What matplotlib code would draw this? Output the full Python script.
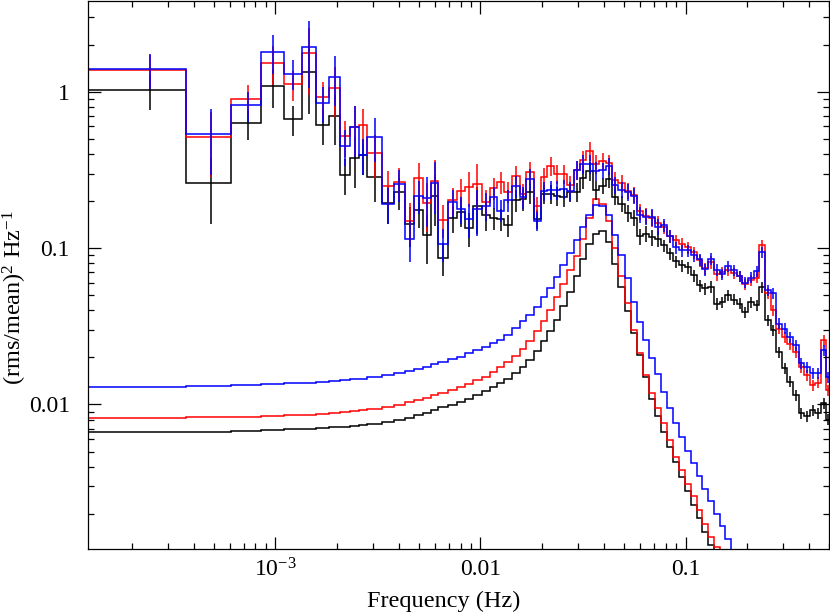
import numpy as np
import matplotlib
matplotlib.use("Agg")
import matplotlib.pyplot as plt
from matplotlib.ticker import LogLocator, FixedLocator, FixedFormatter, NullFormatter

# ---------------- data ----------------
# number of Fourier frequencies (df = 1/4096 Hz) contained in each rebinned frequency bin
bin_width = ([1] * 11 + [2] * 7 + [3] * 4 + [4] * 4 + [5] * 3 + [6] * 3 + [7] * 2 + [8] * 3 + [10] * 2 +
             [11, 12, 12, 13, 14, 15, 16, 17, 18, 19, 20, 22, 23, 24, 26, 28, 29, 31, 33, 35, 37,
              40, 42, 45, 48, 51, 54, 58, 61, 65, 69, 74, 78, 83, 88, 94, 100, 106, 113, 120, 60])
df = 1.0 / 4096.0

# observed power spectra (rms/mean)^2/Hz
pds_black = [1.02, 0.260, 0.631, 1.092, 0.669, 1.342, 0.613, 0.703, 0.295, 0.379,
             0.396, 0.287, 0.194, 0.228, 0.143, 0.176, 0.121, 0.217, 0.087, 0.156,
             0.170, 0.135, 0.185, 0.162, 0.156, 0.154, 0.140, 0.202, 0.207, 0.228,
             0.154, 0.222, 0.222, 0.217, 0.212, 0.228, 0.228, 0.279, 0.313, 0.237,
             0.251, 0.275, 0.213, 0.193, 0.168, 0.157, 0.119, 0.124, 0.117, 0.115,
             0.104, 0.0925, 0.0823, 0.0776, 0.0753, 0.0669, 0.0578, 0.0553, 0.0564, 0.0442,
             0.0452, 0.0499, 0.0469, 0.0442, 0.0390, 0.0452, 0.0431, 0.0564, 0.0346, 0.0298,
             0.0217, 0.0170, 0.0140, 0.0115, 0.0088, 0.0084, 0.0092, 0.0088, 0.0102, 0.0080]
pds_red = [1.38, 0.516, 0.906, 1.525, 1.120, 1.766, 0.920, 1.065, 0.520, 0.595,
           0.616, 0.406, 0.248, 0.264, 0.150, 0.281, 0.194, 0.270, 0.152, 0.202,
           0.231, 0.245, 0.258, 0.196, 0.243, 0.264, 0.230, 0.288, 0.222, 0.306,
           0.187, 0.284, 0.337, 0.298, 0.298, 0.255, 0.316, 0.366, 0.418, 0.347,
           0.360, 0.350, 0.273, 0.261, 0.233, 0.220, 0.172, 0.161, 0.156, 0.144,
           0.136, 0.119, 0.112, 0.107, 0.101, 0.0939, 0.0834, 0.0742, 0.0814, 0.0679,
           0.0703, 0.0721, 0.0693, 0.0660, 0.0587, 0.0622, 0.0647, 0.104, 0.0516, 0.0400,
           0.0306, 0.0270, 0.0243, 0.0217, 0.0174, 0.0154, 0.0133, 0.0138, 0.0258, 0.0124]
pds_blue = [1.40, 0.537, 0.822, 1.808, 1.309, 1.946, 0.851, 1.247, 0.452, 0.598,
            0.396, 0.516, 0.192, 0.258, 0.115, 0.216, 0.210, 0.260, 0.107, 0.197,
            0.178, 0.154, 0.178, 0.187, 0.212, 0.174, 0.202, 0.248, 0.212, 0.277,
            0.150, 0.233, 0.236, 0.236, 0.239, 0.233, 0.316, 0.346, 0.347, 0.313,
            0.315, 0.335, 0.254, 0.237, 0.228, 0.217, 0.164, 0.159, 0.158, 0.137,
            0.140, 0.119, 0.101, 0.0967, 0.0967, 0.0898, 0.0847, 0.0731, 0.0856, 0.0728,
            0.0679, 0.0764, 0.0721, 0.0660, 0.0601, 0.0647, 0.0710, 0.0943, 0.0537, 0.0516,
            0.0329, 0.0306, 0.0270, 0.0239, 0.0183, 0.0174, 0.0158, 0.0158, 0.0222, 0.0150]

# fractional 1-sigma uncertainty of each bin
rel_err = [0.25, 0.45, 0.22, 0.28, 0.22, 0.46, 0.26, 0.35, 0.26, 0.36,
           0.26, 0.31, 0.26, 0.23, 0.29, 0.24, 0.35, 0.36, 0.24, 0.20,
           0.20, 0.25, 0.33, 0.20, 0.16, 0.16, 0.16, 0.16, 0.16, 0.16,
           0.14, 0.14, 0.14, 0.14, 0.14, 0.14, 0.14, 0.14, 0.14, 0.14,
           0.12, 0.12, 0.12, 0.12, 0.12, 0.12, 0.12, 0.12, 0.12, 0.12,
           0.09, 0.09, 0.09, 0.09, 0.09, 0.09, 0.09, 0.09, 0.09, 0.09,
           0.08, 0.08, 0.08, 0.08, 0.08, 0.08, 0.08, 0.08, 0.08, 0.08,
           0.08, 0.08, 0.08, 0.08, 0.08, 0.08, 0.08, 0.08, 0.08, 0.08]

# model (Lorentzian-like component) in each bin
model_black = [0.00664, 0.00667, 0.00676, 0.00686, 0.00692, 0.00697, 0.00704, 0.00714, 0.00723, 0.00730,
               0.00739, 0.00755, 0.00775, 0.00795, 0.00823, 0.00856, 0.00885, 0.00921, 0.00958, 0.00991,
               0.0104, 0.0109, 0.0115, 0.0122, 0.0129, 0.0137, 0.0146, 0.0159, 0.0173, 0.0192,
               0.0219, 0.0254, 0.0294, 0.0346, 0.0425, 0.0522, 0.0660, 0.0847, 0.106, 0.124,
               0.128, 0.109, 0.0787, 0.0561, 0.0395, 0.0286, 0.0207, 0.0150, 0.0109, 0.00843,
               0.00667, 0.00535, 0.00429, 0.00344, 0.00280, 0.00228, 0.00188, 0.00153, 0.00127, 0.00106,
               0.00090, 0.00077, 0.00066, 0.00056, 0.00048, 0.00041, 0.00035, 0.00030, 0.00026, 0.00022,
               0.00019, 0.00016, 0.00014, 0.00012, 0.00010, 0.00009, 0.00008, 0.00007, 0.00006, 0.00005]
model_red = [0.00823, 0.00827, 0.00835, 0.00843, 0.00852, 0.00860, 0.00875, 0.00888, 0.00898, 0.00910,
             0.00921, 0.00941, 0.00967, 0.00991, 0.0103, 0.0107, 0.0110, 0.0115, 0.0119, 0.0124,
             0.0129, 0.0136, 0.0143, 0.0150, 0.0161, 0.0173, 0.0187, 0.0204, 0.0226, 0.0254,
             0.0294, 0.0341, 0.0400, 0.0485, 0.0587, 0.0721, 0.0885, 0.115, 0.155, 0.205,
             0.193, 0.150, 0.0996, 0.0660, 0.0444, 0.0298, 0.0213, 0.0154, 0.0118, 0.00944,
             0.00758, 0.00593, 0.00464, 0.00381, 0.00310, 0.00258, 0.00212, 0.00172, 0.00142, 0.00123,
             0.00105, 0.00090, 0.00077, 0.00066, 0.00057, 0.00049, 0.00042, 0.00036, 0.00031, 0.00027,
             0.00023, 0.00020, 0.00017, 0.00015, 0.00013, 0.00011, 0.00010, 0.00009, 0.00008, 0.00007]
model_blue = [0.01297, 0.01311, 0.01324, 0.01350, 0.01370, 0.01380, 0.01400, 0.01415, 0.01432, 0.01446,
              0.01459, 0.01489, 0.01533, 0.01579, 0.01626, 0.01675, 0.01740, 0.01810, 0.01873, 0.01940,
              0.0202, 0.0212, 0.0222, 0.0232, 0.0246, 0.0260, 0.0277, 0.0307, 0.0341, 0.0372,
              0.0418, 0.0485, 0.0553, 0.0650, 0.0776, 0.0925, 0.112, 0.136, 0.162, 0.189,
              0.186, 0.162, 0.122, 0.0898, 0.0641, 0.0450, 0.0336, 0.0258, 0.0198, 0.0156,
              0.0121, 0.00948, 0.00764, 0.00622, 0.00506, 0.00420, 0.00349, 0.00288, 0.00242, 0.00200,
              0.00167, 0.00138, 0.00114, 0.00096, 0.00081, 0.00069, 0.00059, 0.00050, 0.00043, 0.00037,
              0.00032, 0.00027, 0.00023, 0.00020, 0.00017, 0.00015, 0.00013, 0.00011, 0.00010, 0.00009]

x_ticks = [1e-3, 1e-2, 1e-1]
x_ticklabels = [r"$10^{-3}$", "0.01", "0.1"]
y_ticks = [0.01, 0.1, 1.0]
y_ticklabels = ["0.01", "0.1", "1"]

# ---------------- plot ----------------
plt.rcParams["font.family"] = ["Liberation Serif", "DejaVu Serif"]
plt.rcParams["mathtext.fontset"] = "custom"
plt.rcParams["mathtext.rm"] = "Liberation Serif"
plt.rcParams["mathtext.it"] = "Liberation Serif:italic"

edges = (0.5 + np.concatenate([[0], np.cumsum(bin_width)])) * df
centres = 0.5 * (edges[:-1] + edges[1:])

fig = plt.figure(figsize=(8.3, 6.13), dpi=100)
ax = fig.add_axes([88 / 830, 1 - 549 / 613, (829 - 88) / 830, (548) / 613])

colors = {"black": "#000000", "red": "#ff0000", "blue": "#0000ff"}
series = [("black", pds_black, model_black),
          ("red", pds_red, model_red),
          ("blue", pds_blue, model_blue)]
rel = np.array(rel_err)
for name, pds, model in series:
    c = colors[name]
    ax.stairs(model, edges, color=c, lw=1.1, baseline=None)
for name, pds, model in series:
    c = colors[name]
    p = np.array(pds)
    ax.stairs(p, edges, color=c, lw=1.1, baseline=None)
    ax.errorbar(centres, p, yerr=rel * p, fmt="none", ecolor=c, elinewidth=1.1, capsize=0)

ax.set_xscale("log")
ax.set_yscale("log")
ax.set_xlim(edges[0], edges[-1])
ax.set_ylim(0.00119, 3.81)

ax.xaxis.set_major_locator(FixedLocator(x_ticks))
ax.xaxis.set_major_formatter(FixedFormatter(x_ticklabels))
ax.xaxis.set_minor_locator(LogLocator(base=10, subs=np.arange(2, 10)))
ax.xaxis.set_minor_formatter(NullFormatter())
ax.yaxis.set_major_locator(FixedLocator(y_ticks))
ax.yaxis.set_major_formatter(FixedFormatter(y_ticklabels))
ax.yaxis.set_minor_locator(LogLocator(base=10, subs=np.arange(2, 10)))
ax.yaxis.set_minor_formatter(NullFormatter())

ax.tick_params(which="both", direction="in", top=True, right=True, width=0.9, labelsize=17)
ax.tick_params(which="major", length=9)
ax.tick_params(which="minor", length=4.5)
ax.tick_params(axis="x", which="major", pad=7)
ax.tick_params(axis="y", which="major", pad=13)
for s in ax.spines.values():
    s.set_linewidth(0.9)

ax.set_xlabel("Frequency (Hz)", fontsize=17.5, va="center")
ax.xaxis.set_label_coords((444 - 88) / 741, -(601 - 549) / 548)
ax.set_ylabel(r"(rms/mean)$^2$ Hz$^{-1}$", fontsize=17.5, va="center")
ax.yaxis.set_label_coords(-(88 - 15) / 741, (549 - 298) / 548)

fig.savefig("out.png", dpi=100)
